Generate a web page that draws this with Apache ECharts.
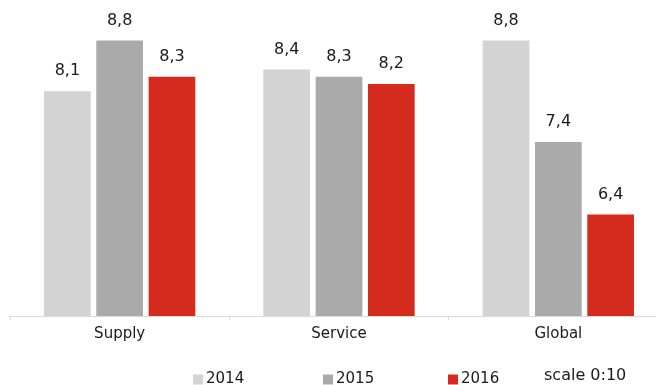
<!DOCTYPE html>
<html>
<head>
<meta charset="utf-8">
<script src="https://cdn.jsdelivr.net/npm/echarts@6/dist/echarts.min.js"></script>
<style>
  html, body { margin: 0; padding: 0; background: #ffffff; overflow: hidden; }
  /* the category axis runs on past the right edge of the page */
  #chart { width: 672px; height: 385px; }
</style>
</head>
<body>
<div id="chart"></div>
<script>
// Scores by area and year (scale 0:10)
const categories = ['Supply', 'Service', 'Global'];
const years = ['2014', '2015', '2016'];
const values2014 = [8.1, 8.4, 8.8];
const values2015 = [8.8, 8.3, 7.4];
const values2016 = [8.3, 8.2, 6.4];
const colors = ['#d3d3d3', '#aaaaaa', '#d52b1f'];
const legendLeft = [188, 318, 443];

const FONT = '"DejaVu Sans", Verdana, sans-serif';
const fmt = p => p.value.toFixed(1).replace('.', ',');

function barSeries(name, data, color) {
  return {
    name: name,
    type: 'bar',
    data: data,
    barGap: '12%',
    barCategoryGap: '31%',
    itemStyle: { color: color },
    label: {
      show: true,
      position: 'top',
      distance: 12,
      formatter: fmt,
      fontFamily: FONT,
      fontSize: 16,
      color: '#1a1a1a'
    }
  };
}

const chart = echarts.init(document.getElementById('chart'));
chart.setOption({
  animation: false,
  grid: { left: 10, top: 26, bottom: 69, width: 658, containLabel: false },
  xAxis: {
    type: 'category',
    data: categories,
    axisLine: { lineStyle: { color: '#d9d9d9', width: 1 } },
    axisTick: { show: true, length: 4, lineStyle: { color: '#d9d9d9' } },
    axisLabel: { fontFamily: FONT, fontSize: 15, color: '#1a1a1a', margin: 11 }
  },
  yAxis: {
    type: 'value',
    min: 5,
    max: 9,
    show: false,
    splitLine: { show: false }
  },
  legend: years.map((y, i) => ({
    left: legendLeft[i],
    top: 367,
    itemWidth: 10,
    itemHeight: 10,
    icon: 'rect',
    textStyle: { fontFamily: FONT, fontSize: 15, color: '#1a1a1a', padding: [0, 0, 0, -2] },
    data: [y]
  })),
  graphic: [{
    type: 'text',
    left: 544,
    top: 368,
    style: { text: 'scale 0:10', font: '16px ' + FONT, fill: '#1a1a1a' }
  }],
  series: [
    barSeries(years[0], values2014, colors[0]),
    barSeries(years[1], values2015, colors[1]),
    barSeries(years[2], values2016, colors[2])
  ]
});
</script>
</body>
</html>
